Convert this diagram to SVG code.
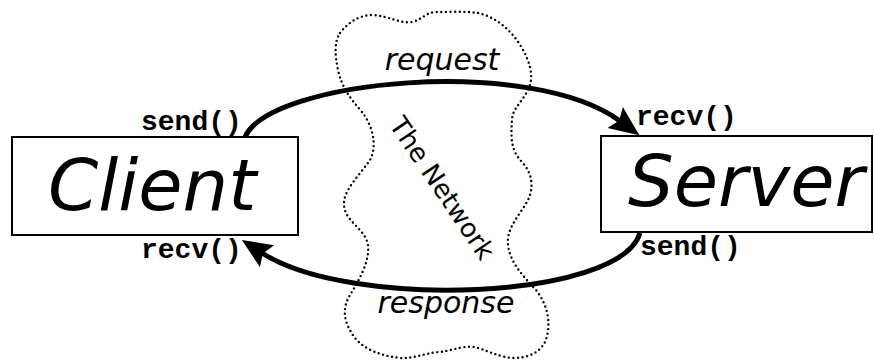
<svg xmlns="http://www.w3.org/2000/svg" width="874" height="361" viewBox="0 0 874 361">
<style>
.box{fill:#fff;stroke:#000;stroke-width:2}
.big{font-family:"DejaVu Sans",sans-serif;font-style:italic;font-size:72px;fill:#000}
.mid{font-family:"DejaVu Sans",sans-serif;font-style:italic;font-size:30px;fill:#000}
.net{font-family:"DejaVu Sans",sans-serif;font-size:26px;fill:#000}
.fn{font-family:"Liberation Mono","Courier New",monospace;font-weight:bold;font-size:28px;fill:#000}
.arc{fill:none;stroke:#000;stroke-width:5}
.cloud{fill:none;stroke:#000;stroke-width:2.4;stroke-dasharray:0 4.6;stroke-linecap:round}
</style>
<defs>
<marker id="head" markerUnits="userSpaceOnUse" markerWidth="32" markerHeight="28" refX="6" refY="13" orient="auto">
<path d="M0,0 L30,13 L0,26 L5,13 z" fill="#000"/>
</marker>
</defs>
<g id="network">
<path class="cloud" d="M340,33 C350,20 362,15 372,15 C390,16 400,24 412,22 C422,20 426,12 436,12 C450,12 465,11 478,13 C495,17 510,28 522,48 C530,62 533,75 530,85 C525,100 512,108 512,120 C511,135 510,150 522,162 C534,175 533,190 528,200 C520,215 506,228 508,245 C510,262 522,275 536,290 C548,305 552,325 545,342 C538,356 520,360 505,357 C488,353 478,345 465,347 C452,349 445,352 438,352 C422,354 412,359 400,358 C382,356 365,350 355,338 C343,322 342,308 350,295 C358,282 370,262 368,245 C365,228 345,222 344,205 C343,190 360,175 370,160 C378,145 372,125 362,112 C350,98 342,88 338,70 C335,55 334,42 340,33 Z"/>
<text class="net" transform="translate(441,189) rotate(56)" text-anchor="middle" dominant-baseline="middle">The Network</text>
</g>
<g id="connectors">
<path id="request-arc" class="arc" d="M245,137 C270,80 530,55 620,121" marker-end="url(#head)"/>
<path id="response-arc" class="arc" d="M640,233 C620,300 350,310 262,253" marker-end="url(#head)"/>
<text class="mid" x="442" y="70" text-anchor="middle">request</text>
<text class="mid" x="446" y="313" text-anchor="middle">response</text>
</g>
<g id="client">
<rect class="box" x="12" y="137" width="286" height="98"/>
<text class="big" x="48" y="210">Client</text>
<text class="fn" x="141" y="130">send()</text>
<text class="fn" x="141" y="258">recv()</text>
</g>
<g id="server">
<rect class="box" x="601" y="136" width="271" height="96"/>
<text class="big" x="628" y="206">Server</text>
<text class="fn" x="636" y="125">recv()</text>
<text class="fn" x="640" y="255">send()</text>
</g>
</svg>
